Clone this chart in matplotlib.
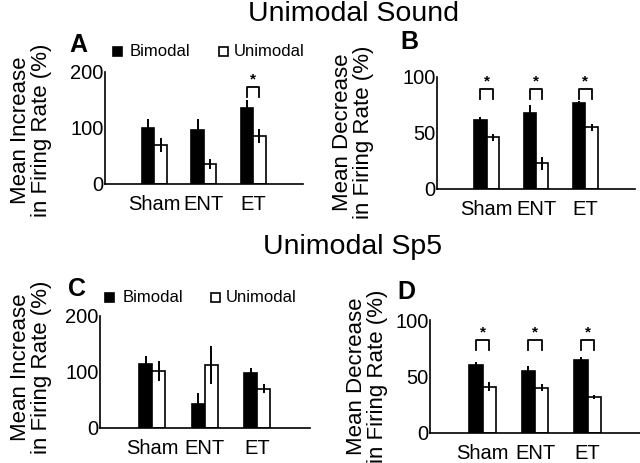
import numpy as np
import matplotlib.pyplot as plt
from matplotlib.patches import Rectangle

plt.rcParams['font.family'] = ['Liberation Sans', 'DejaVu Sans']

groups = ['Sham', 'ENT', 'ET']

# panel A: unimodal sound, increase
a_bi, a_bi_err = [100, 96, 136], [16, 20, 14]
a_uni, a_uni_err = [70, 36, 86], [12, 9, 12]
# panel B: unimodal sound, decrease
b_bi, b_bi_err = [62, 68, 77], [2, 7, 2]
b_uni, b_uni_err = [46, 23, 55], [3, 6, 3]
# panel C: unimodal Sp5, increase
c_bi, c_bi_err = [114, 43, 98], [15, 19, 10]
c_uni, c_uni_err = [102, 112, 70], [18, 34, 8]
# panel D: unimodal Sp5, decrease
d_bi, d_bi_err = [60, 55, 65], [3, 4, 2]
d_uni, d_uni_err = [41, 40, 32], [4, 3, 2]

# groups with a significance bracket, and bracket height
a_sig, a_sig_y = [2], 173
b_sig, b_sig_y = [0, 1, 2], 89
c_sig, c_sig_y = [], 0
d_sig, d_sig_y = [0, 1, 2], 82

fig = plt.figure(figsize=(6.4, 4.63), dpi=100)


def panel(rect, bi, bi_err, uni, uni_err, ymax, sig, sig_y):
    ax = fig.add_axes(rect)
    x = np.arange(1, 4)
    w = 0.25
    ax.bar(x - w/2, bi, w, color='black', edgecolor='black', lw=1.2)
    ax.bar(x + w/2, uni, w, color='white', edgecolor='black', lw=1.2)
    ax.errorbar(x - w/2, bi, yerr=bi_err, fmt='none', ecolor='black',
                elinewidth=1.4, capsize=0)
    ax.errorbar(x + w/2, uni, yerr=uni_err, fmt='none', ecolor='black',
                elinewidth=1.4, capsize=0)
    tick = ymax * 0.085
    for i in sig:
        xl, xr = x[i] - w/2, x[i] + w/2
        ax.plot([xl, xl, xr, xr], [sig_y - tick, sig_y, sig_y, sig_y - tick],
                color='black', lw=1.3, clip_on=False)
        ax.text(x[i], sig_y + ymax*0.01, '*', ha='center', va='bottom',
                fontsize=11, fontweight='bold')
    ax.set_xlim(0, 4)
    ax.set_ylim(0, ymax)
    ax.set_yticks([0, ymax/2, ymax])
    ax.set_yticklabels(['0', str(ymax//2), str(ymax)])
    ax.set_xticks(x)
    ax.set_xticklabels(groups)
    ax.tick_params(length=0, labelsize=14.5, pad=1)
    ax.tick_params(axis='x', pad=8)
    for s in ['top', 'right']:
        ax.spines[s].set_visible(False)
    for s in ['left', 'bottom']:
        ax.spines[s].set_linewidth(1.2)
    return ax


panel([0.164, 0.6026, 0.309, 0.2419], a_bi, a_bi_err, a_uni, a_uni_err, 200, a_sig, a_sig_y)
panel([0.683, 0.5918, 0.309, 0.2419], b_bi, b_bi_err, b_uni, b_uni_err, 100, b_sig, b_sig_y)
panel([0.156, 0.0756, 0.328, 0.2419], c_bi, c_bi_err, c_uni, c_uni_err, 200, c_sig, c_sig_y)
panel([0.672, 0.0648, 0.328, 0.244], d_bi, d_bi_err, d_uni, d_uni_err, 100, d_sig, d_sig_y)

W, H = 640, 463


def ftext(px, py, s, **kw):
    fig.text(px / W, 1 - py / H, s, **kw)


ftext(353, 14, 'Unimodal Sound', ha='center', va='center', fontsize=20.5)
ftext(353, 247, 'Unimodal Sp5', ha='center', va='center', fontsize=20.5)

for px, py, s in [(78, 45, 'A'), (409, 42, 'B'), (77, 289, 'C'), (406, 292, 'D')]:
    ftext(px, py, s, ha='center', va='center', fontsize=18, fontweight='bold')

ftext(31, 130, 'Mean Increase\nin Firing Rate (%)', rotation=90, ha='center',
      va='center', fontsize=16, linespacing=1.05)
ftext(353, 132, 'Mean Decrease\nin Firing Rate (%)', rotation=90, ha='center',
      va='center', fontsize=16, linespacing=1.05)
ftext(31, 367, 'Mean Increase\nin Firing Rate (%)', rotation=90, ha='center',
      va='center', fontsize=16, linespacing=1.05)
ftext(367, 376, 'Mean Decrease\nin Firing Rate (%)', rotation=90, ha='center',
      va='center', fontsize=16, linespacing=1.05)

# legends
for sq_x, sq_y, txt_x in [(113, 47, 130), (105, 293, 123)]:
    fig.patches.append(Rectangle((sq_x / W, 1 - (sq_y + 9) / H), 9 / W, 9 / H,
                                 transform=fig.transFigure, facecolor='black',
                                 edgecolor='black', lw=1.2))
    ftext(txt_x, sq_y + 4.5, 'Bimodal', ha='left', va='center', fontsize=12)
for sq_x, sq_y, txt_x in [(219, 47, 234), (211, 293, 226)]:
    fig.patches.append(Rectangle((sq_x / W, 1 - (sq_y + 9) / H), 9 / W, 9 / H,
                                 transform=fig.transFigure, facecolor='white',
                                 edgecolor='black', lw=1.2))
    ftext(txt_x, sq_y + 4.5, 'Unimodal', ha='left', va='center', fontsize=12)

fig.savefig('out.png', dpi=100)
